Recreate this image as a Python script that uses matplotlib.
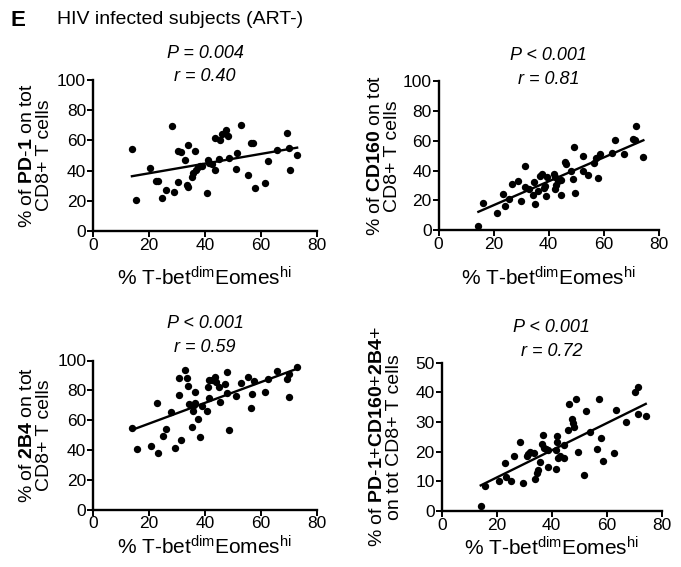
import numpy as np
import matplotlib
matplotlib.use("Agg")
import matplotlib.pyplot as plt

plt.rcParams['font.family'] = ['Liberation Sans', 'DejaVu Sans']
plt.rcParams['mathtext.fontset'] = 'custom'
plt.rcParams['mathtext.rm'] = 'Liberation Sans'
plt.rcParams['mathtext.it'] = 'Liberation Sans:italic'
plt.rcParams['mathtext.bf'] = 'Liberation Sans:bold'

# Panel data (x = % T-bet dim Eomes hi)
x1 = [13.9, 15.5, 20.4, 22.4, 23.2, 24.8, 26.0, 28.1, 29.1, 30.4, 30.4, 31.6, 33.0, 33.4, 33.9,
      34.1, 35.3, 35.8, 36.5, 36.8, 37.6, 38.2, 38.8, 40.6, 41.0, 41.6, 42.4, 43.6, 43.7, 44.9,
      45.4, 46.1, 47.5, 48.1, 48.7, 51.0, 51.3, 52.8, 55.5, 56.5, 57.1, 57.7, 61.5, 62.4, 65.7,
      69.4, 70.1, 70.3, 72.9]
y1 = [54.2, 20.4, 41.8, 32.9, 32.9, 21.8, 27.3, 69.6, 26.0, 32.7, 52.9, 52.0, 46.7, 30.7, 28.9,
      56.7, 36.0, 38.2, 52.7, 40.4, 42.2, 43.3, 43.3, 25.1, 47.3, 45.3, 44.4, 40.4, 61.8, 47.8,
      60.0, 64.0, 66.7, 62.7, 48.4, 40.9, 51.6, 70.2, 37.1, 58.2, 58.2, 28.4, 31.8, 46.4, 53.8,
      65.1, 54.9, 40.7, 50.2]

x2 = [14.5, 16.1, 21.2, 23.4, 24.0, 25.7, 26.9, 29.0, 30.1, 31.4, 31.5, 33.0, 34.2, 34.8, 35.2,
      36.2, 36.8, 37.6, 38.2, 38.8, 39.0, 39.5, 41.9, 42.2, 42.5, 42.8, 43.3, 44.6, 44.7, 46.1,
      46.5, 48.1, 49.0, 49.3, 49.7, 52.4, 52.7, 54.2, 56.7, 57.3, 58.1, 58.9, 63.0, 64.0, 67.3,
      70.8, 71.8, 71.5, 74.5]
y2 = [2.7, 18.4, 11.7, 24.3, 16.4, 21.1, 31.2, 33.3, 19.8, 29.2, 43.1, 27.4, 23.4, 32.6, 17.5,
      26.5, 36.4, 37.5, 28.5, 29.7, 22.9, 35.7, 37.5, 35.5, 27.9, 30.6, 33.3, 23.4, 33.7, 45.8,
      44.5, 39.8, 34.4, 56.2, 25.2, 40.0, 50.1, 36.9, 44.9, 48.8, 34.8, 51.2, 51.7, 60.7, 51.2,
      61.1, 70.3, 60.7, 49.4]

x3 = [13.9, 15.5, 20.5, 22.7, 23.3, 24.8, 26.0, 27.9, 29.1, 30.6, 30.6, 31.5, 33.0, 33.4, 33.9,
      34.3, 35.3, 35.6, 36.1, 36.5, 36.5, 37.6, 38.2, 38.8, 40.8, 41.2, 41.3, 41.3, 42.4, 43.5,
      43.9, 45.1, 45.5, 47.2, 47.8, 48.0, 48.6, 51.1, 52.8, 55.4, 56.4, 56.8, 57.5, 61.6, 62.7,
      65.7, 69.4, 70.2, 70.2, 73.0]
y3 = [54.9, 40.6, 42.6, 71.7, 37.7, 49.1, 54.3, 65.7, 41.5, 88.1, 76.9, 46.4, 93.3, 88.1, 83.0,
      70.6, 55.6, 66.1, 70.2, 79.1, 71.3, 61.0, 48.9, 69.7, 66.4, 82.5, 87.0, 74.7, 87.0, 88.6,
      85.7, 82.5, 72.0, 83.9, 78.5, 92.2, 53.6, 76.2, 85.0, 88.6, 68.2, 77.4, 86.3, 79.1, 87.4,
      92.8, 87.4, 75.8, 90.8, 95.7]

x4 = [14.2, 15.8, 20.8, 22.9, 23.5, 25.2, 26.4, 28.5, 29.7, 30.9, 31.5, 32.1, 33.5, 33.9, 34.5,
      34.9, 35.8, 36.4, 36.8, 37.3, 37.8, 38.5, 38.8, 41.5, 41.7, 41.8, 41.9, 42.4, 42.9, 44.4,
      44.5, 45.8, 46.4, 47.3, 47.6, 48.2, 48.9, 49.5, 51.9, 52.4, 53.9, 57.1, 57.8, 56.4, 58.8,
      62.7, 63.5, 66.9, 70.3, 71.2, 71.5, 74.2]
y4 = [1.8, 8.5, 10.2, 16.1, 11.6, 10.1, 18.5, 23.4, 9.3, 18.5, 19.2, 19.8, 19.4, 10.7, 12.9,
      13.8, 16.4, 22.6, 25.5, 21.1, 20.8, 20.6, 14.9, 14.0, 20.6, 23.1, 25.3, 17.8, 18.7, 17.8,
      22.2, 27.3, 36.0, 30.9, 29.8, 28.4, 37.8, 20.0, 12.1, 33.7, 26.7, 37.6, 24.5, 21.0, 17.0,
      19.7, 34.0, 30.1, 40.0, 41.8, 32.7, 31.9]

stats = [("P = 0.004", "r = 0.40"), ("P < 0.001", "r = 0.81"),
         ("P < 0.001", "r = 0.59"), ("P < 0.001", "r = 0.72")]
ylabels = [r"% of $\mathbf{PD\text{-}1}$ on tot" + "\nCD8+ T cells",
           r"% of $\mathbf{CD160}$ on tot" + "\nCD8+ T cells",
           r"% of $\mathbf{2B4}$ on tot" + "\nCD8+ T cells",
           r"% of $\mathbf{PD\text{-}1\text{+}CD160\text{+}2B4\text{+}}$" + "\non tot CD8+ T cells"]
xlabel = r"% T-bet$^{\mathrm{dim}}$Eomes$^{\mathrm{hi}}$"
ymax = [100, 100, 100, 50]
ystep = [20, 20, 20, 10]

W, H = 681, 567
fig = plt.figure(figsize=(W / 100, H / 100), dpi=100)

# axes boxes in pixels: left, right, top, bottom
boxes = [(93, 317, 80, 231), (438.5, 658.5, 81.5, 230),
         (93.3, 316.7, 360.5, 509.5), (441.7, 661.7, 362.7, 511)]
data = [(x1, y1), (x2, y2), (x3, y3), (x4, y4)]
ylab_x = [36, 384, 36, 386]
title_y = [(54, 77), (55, 79), (323, 348), (327, 352)]
xlab_y = [278, 278, 547, 548]

for i, ((l, r, t, b), (xs, ys)) in enumerate(zip(boxes, data)):
    ax = fig.add_axes([l / W, 1 - b / H, (r - l) / W, (b - t) / H])
    xs = np.array(xs)
    ys = np.array(ys)
    ax.scatter(xs, ys, s=28, color="black", zorder=3, clip_on=False, linewidths=0)
    k, c = np.polyfit(xs, ys, 1)
    lx = np.array([xs.min(), xs.max()])
    ax.plot(lx, k * lx + c, color="black", lw=1.7)

    ax.set_xlim(0, 80)
    ax.set_ylim(0, ymax[i])
    ax.set_xticks(np.arange(0, 81, 20))
    ax.set_yticks(np.arange(0, ymax[i] + 1, ystep[i]))
    for s in ["top", "right"]:
        ax.spines[s].set_visible(False)
    for s in ["left", "bottom"]:
        ax.spines[s].set_linewidth(1.7)
    ax.tick_params(direction="out", length=4, width=1.4, labelsize=12.5, pad=1)

    cx = (l + r) / 2
    fig.text(cx / W, 1 - title_y[i][0] / H, stats[i][0], ha="center", va="center",
             fontsize=13, style="italic")
    fig.text(cx / W, 1 - title_y[i][1] / H, stats[i][1], ha="center", va="center",
             fontsize=13, style="italic")
    fig.text(cx / W, 1 - xlab_y[i] / H, xlabel, ha="center", va="center", fontsize=15)
    fig.text(ylab_x[i] / W, 1 - ((t + b) / 2) / H, ylabels[i],
             rotation=90, ha="center", va="center", multialignment="center",
             fontsize=14, linespacing=1.05)

fig.text(10 / W, 1 - 20 / H, "E", fontsize=16, fontweight="bold", va="center")
fig.text(57 / W, 1 - 20 / H, "HIV infected subjects (ART-)", fontsize=14, va="center")

fig.savefig("out.png", dpi=100)
